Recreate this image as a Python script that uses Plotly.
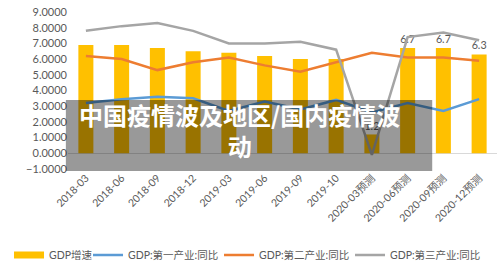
import plotly.graph_objects as go

categories = ["2018-03", "2018-06", "2018-09", "2018-12", "2019-03", "2019-06",
              "2019-09", "2019-10", "2020-03预测", "2020-06预测", "2020-09预测", "2020-12预测"]
gdp_growth = [6.9, 6.9, 6.7, 6.5, 6.4, 6.2, 6.0, 6.0, 1.2, 6.7, 6.7, 6.3]
gdp_labels = ["", "", "", "", "", "", "", "", "1.2", "6.7", "6.7", "6.3"]
primary = [3.2, 3.45, 3.6, 3.5, 2.7, 3.3, 2.8, 3.4, 2.6, 3.2, 2.7, 3.45]
secondary = [6.2, 6.0, 5.3, 5.8, 6.1, 5.6, 5.2, 5.8, 6.4, 6.1, 6.1, 5.9]
tertiary = [7.8, 8.1, 8.3, 7.8, 7.0, 7.0, 7.1, 6.6, -0.1, 7.4, 7.7, 7.2]

title_text = "中国疫情波及地区/国内疫情波<br>动"

FONT = "Lato, 'Noto Sans CJK SC', sans-serif"
GRAY = "#595959"

fig = go.Figure()
fig.add_trace(go.Bar(
    x=categories, y=gdp_growth, name="GDP增速", showlegend=False,
    marker=dict(color="#FFC000", line=dict(width=0)),
    text=gdp_labels, textposition="outside", cliponaxis=False,
    textfont=dict(color=GRAY, size=11, family=FONT),
))
# legend-only entry styled like the reference's wide bar swatch
fig.add_trace(go.Scatter(x=[None], y=[None], name="GDP增速", mode="lines",
                         line=dict(color="#FFC000", width=7), legendwidth=34))
fig.add_trace(go.Scatter(x=categories, y=primary, name="GDP:第一产业:同比",
                         mode="lines", line=dict(color="#5B9BD5", width=2.5), legendwidth=86))
fig.add_trace(go.Scatter(x=categories, y=secondary, name="GDP:第二产业:同比",
                         mode="lines", line=dict(color="#ED7D31", width=2.5), legendwidth=86))
fig.add_trace(go.Scatter(x=categories, y=tertiary, name="GDP:第三产业:同比",
                         mode="lines", line=dict(color="#A5A5A5", width=2.5), legendwidth=94))

fig.update_layout(
    width=500, height=272,
    margin=dict(l=68, r=3, t=12, b=103),
    paper_bgcolor="white", plot_bgcolor="white",
    bargap=0.58,
    font=dict(family=FONT, color=GRAY, size=11),
    showlegend=True,
    legend=dict(orientation="h", x=-0.1375, xanchor="left",
                y=-0.548, yanchor="middle",
                font=dict(size=10.5, color=GRAY, family=FONT),
                itemwidth=30, bgcolor="rgba(0,0,0,0)"),
    xaxis=dict(type="category", tickangle=-45, showgrid=False, showline=False,
               ticks="", tickfont=dict(size=10.5, color=GRAY), zeroline=False),
    yaxis=dict(range=[-1, 9], dtick=1, tickformat=".4f", showgrid=False,
               zeroline=True, zerolinecolor="#D9D9D9", zerolinewidth=1,
               showline=False, ticks="", tickfont=dict(size=11, color=GRAY)),
    shapes=[dict(type="rect", xref="paper", yref="paper",
                 x0=-0.005, x1=0.849, y0=-0.013, y1=0.44,
                 fillcolor="rgba(0,0,0,0.4)", line=dict(width=0), layer="above")],
    annotations=[dict(text=title_text, xref="paper", yref="paper", x=0.399, y=0.251,
                      xanchor="center", yanchor="middle", showarrow=False, align="center",
                      font=dict(size=24, color="white",
                                family="'Noto Sans CJK SC', sans-serif", weight="bold"))],
)

fig.write_html("out.html")
